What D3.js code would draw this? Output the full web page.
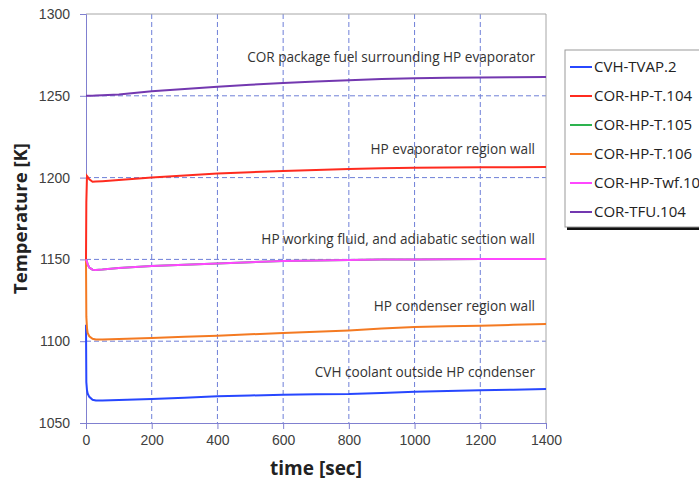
<!DOCTYPE html>
<html>
<head>
<meta charset="utf-8">
<script src="https://cdn.jsdelivr.net/npm/d3@7"></script>
<style>
  body { margin: 0; background: #fff; }
  svg { display: block; font-family: "Open Sans", "Noto Sans", sans-serif; }
</style>
</head>
<body>
<div id="chart"></div>
<script>
// time samples [sec]
var times = [0, 1, 3, 5, 10, 20, 30, 50, 100, 200, 300, 400, 500, 600, 700, 800, 900, 1000, 1100, 1200, 1300, 1400];

// temperatures [K]
var cvhTvap = [1110, 1075, 1070, 1068, 1066, 1064.2, 1063.7, 1063.7, 1064, 1064.7, 1065.5, 1066.4, 1066.8, 1067.3, 1067.5, 1067.7, 1068.4, 1069.1, 1069.6, 1070, 1070.4, 1070.8];
var hpT104 = [1150, 1185, 1201, 1200.5, 1199, 1197.5, 1197.6, 1197.8, 1198.5, 1200, 1201.3, 1202.5, 1203.3, 1204, 1204.7, 1205.3, 1205.7, 1206, 1206.2, 1206.3, 1206.4, 1206.5];
var hpT105 = [1150, 1149.5, 1148.5, 1147, 1145, 1143.7, 1143.5, 1143.8, 1144.8, 1146, 1146.8, 1147.5, 1148.3, 1149, 1149.4, 1149.7, 1149.9, 1150, 1150.1, 1150.2, 1150.2, 1150.3];
var hpT106 = [1150, 1115, 1108, 1105, 1103, 1101.5, 1101, 1101, 1101.3, 1102, 1102.7, 1103.4, 1104.2, 1105, 1105.8, 1106.6, 1107.7, 1108.7, 1109.1, 1109.5, 1110, 1110.5];
var hpTwf = [1150, 1149.5, 1148.5, 1147, 1145, 1143.7, 1143.5, 1143.8, 1144.8, 1146, 1146.8, 1147.5, 1148.3, 1149, 1149.4, 1149.7, 1149.9, 1150, 1150.1, 1150.2, 1150.2, 1150.3];
var tfu104 = [1250, 1250, 1250, 1250, 1250, 1250.1, 1250.2, 1250.4, 1250.8, 1252.8, 1254.2, 1255.5, 1256.8, 1257.8, 1258.7, 1259.5, 1260.2, 1260.7, 1261, 1261.2, 1261.4, 1261.5];

var seriesNames = ["CVH-TVAP.2", "COR-HP-T.104", "COR-HP-T.105", "COR-HP-T.106", "COR-HP-Twf.104", "COR-TFU.104"];
var seriesValues = [cvhTvap, hpT104, hpT105, hpT106, hpTwf, tfu104];
var seriesColors = ["#2747ff", "#ff2b1f", "#2db34f", "#f47a22", "#ff47ff", "#7338b0"];

var xTicks = [0, 200, 400, 600, 800, 1000, 1200, 1400];
var yTicks = [1050, 1100, 1150, 1200, 1250, 1300];

var notes = [
  {text: "COR package fuel surrounding HP evaporator", v: 1270.6},
  {text: "HP evaporator region wall", v: 1214.4},
  {text: "HP working fluid, and adiabatic section wall", v: 1159.2},
  {text: "HP condenser region wall", v: 1118.5},
  {text: "CVH coolant outside HP condenser", v: 1078.1}
];

var W = 699, H = 483;
var margin = {top: 14, right: 153, bottom: 60, left: 86},
    width = W - margin.left - margin.right,
    height = H - margin.top - margin.bottom;

var svg = d3.select("#chart")
  .append("svg")
    .attr("width", W)
    .attr("height", H);

var g = svg.append("g")
    .attr("transform", "translate(" + margin.left + "," + margin.top + ")");

var x = d3.scaleLinear().domain([0, 1400]).range([0, width]);
var y = d3.scaleLinear().domain([1050, 1300]).range([height, 0]);

// grid
g.selectAll(".vgrid")
  .data(xTicks.slice(1, -1))
  .enter().append("line")
    .attr("x1", d => x(d)).attr("x2", d => x(d))
    .attr("y1", 0).attr("y2", height)
    .attr("stroke", "#6e7fd8").attr("stroke-width", 1)
    .attr("stroke-dasharray", "5,3");

g.selectAll(".hgrid")
  .data(yTicks.slice(1, -1))
  .enter().append("line")
    .attr("x1", 0).attr("x2", width)
    .attr("y1", d => y(d)).attr("y2", d => y(d))
    .attr("stroke", "#6e7fd8").attr("stroke-width", 1)
    .attr("stroke-dasharray", "5,3");

// top and right border
g.append("line").attr("x1", 0).attr("x2", width).attr("y1", 0).attr("y2", 0)
  .attr("stroke", "#a6a6a6");
g.append("line").attr("x1", width).attr("x2", width).attr("y1", 0).attr("y2", height)
  .attr("stroke", "#a6a6a6");

// axes
var xAxis = g.append("g")
    .attr("transform", "translate(0," + height + ")")
    .call(d3.axisBottom(x).tickValues(xTicks).tickFormat(d3.format("d")).tickSize(6).tickPadding(6));
var yAxis = g.append("g")
    .call(d3.axisLeft(y).tickValues(yTicks).tickFormat(d3.format("d")).tickSize(6).tickPadding(10));

[xAxis, yAxis].forEach(function(a) {
  a.select(".domain").attr("stroke", "#8080d0");
  a.selectAll(".tick line").attr("stroke", "#8080d0");
  a.selectAll(".tick text")
    .attr("fill", "#404040")
    .style("font-size", "14px");
});

// lines
var line = d3.line()
  .x((d, i) => x(times[i]))
  .y(d => y(d));

seriesValues.forEach(function(vals, i) {
  g.append("path")
    .datum(vals)
    .attr("fill", "none")
    .attr("stroke", seriesColors[i])
    .attr("stroke-width", 2)
    .attr("d", line);
});

// annotations
g.selectAll(".note")
  .data(notes)
  .enter().append("text")
    .attr("x", x(1400) - 11)
    .attr("y", d => y(d.v))
    .attr("text-anchor", "end")
    .attr("fill", "#333")
    .style("font-size", "13.6px")
    .text(d => d.text);

// axis titles
svg.append("text")
  .attr("x", margin.left + width / 2)
  .attr("y", 475)
  .attr("text-anchor", "middle")
  .style("font-size", "19px")
  .style("font-weight", "bold")
  .attr("fill", "#222")
  .text("time [sec]");

svg.append("text")
  .attr("transform", "translate(27," + (margin.top + height / 2) + ") rotate(-90)")
  .attr("text-anchor", "middle")
  .style("font-size", "18.5px")
  .style("font-weight", "bold")
  .attr("fill", "#222")
  .text("Temperature [K]");

// legend
var lg = svg.append("g").attr("transform", "translate(565,50)");
lg.append("rect")
  .attr("x", 2).attr("y", 2).attr("width", 160).attr("height", 178)
  .attr("fill", "#111");
lg.append("rect")
  .attr("x", 0).attr("y", 0).attr("width", 160).attr("height", 177)
  .attr("fill", "#fff").attr("stroke", "#9a9a9a");

var item = lg.selectAll(".item")
  .data(seriesNames)
  .enter().append("g")
    .attr("transform", (d, i) => "translate(0," + (17 + i * 29) + ")");
item.append("line")
  .attr("x1", 5).attr("x2", 27).attr("y1", 0).attr("y2", 0)
  .attr("stroke", (d, i) => seriesColors[i]).attr("stroke-width", 2);
item.append("text")
  .attr("x", 29).attr("y", 0)
  .attr("dy", "0.35em")
  .attr("fill", "#222")
  .style("font-size", "15px")
  .text(d => d);
</script>
</body>
</html>
